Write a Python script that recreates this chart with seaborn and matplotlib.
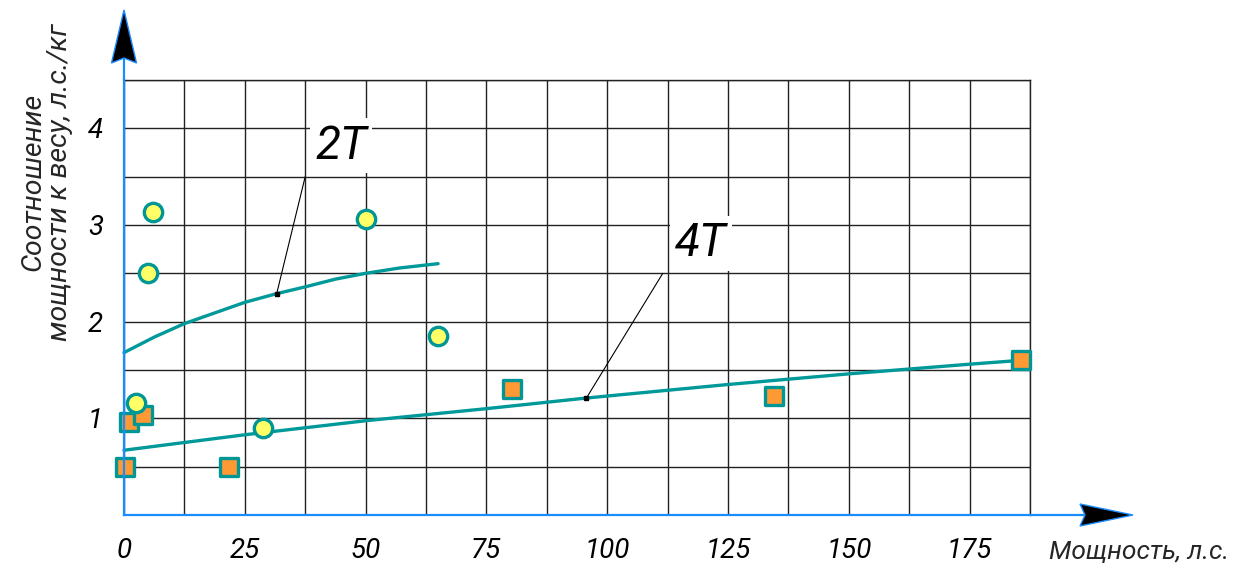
import numpy as np
import pandas as pd
import matplotlib
matplotlib.use("Agg")
import matplotlib.pyplot as plt
import seaborn as sns
from matplotlib import transforms as mtransforms
from matplotlib.patches import Polygon
from matplotlib.ticker import FixedLocator, FixedFormatter

# ---------------- data ----------------
x_2t = [2.5, 5.0, 6.0, 28.8, 50.0, 65.0]
y_2t = [1.16, 2.50, 3.13, 0.90, 3.06, 1.85]

x_4t = [0.2, 1.0, 4.0, 21.7, 80.4, 134.5, 185.6]
y_4t = [0.50, 0.96, 1.03, 0.50, 1.30, 1.23, 1.60]

trend_2t_x = [0, 6.25, 12.5, 18.75, 25, 31.6, 37.5, 43.75, 50, 57, 65]
trend_2t_y = [1.68, 1.84, 1.98, 2.09, 2.20, 2.29, 2.36, 2.44, 2.50, 2.555, 2.60]

trend_4t_x = [0, 25, 50, 75, 95.7, 125, 150, 175, 185.6]
trend_4t_y = [0.67, 0.83, 0.975, 1.10, 1.21, 1.35, 1.46, 1.56, 1.60]

x_tick_values = [0, 25, 50, 75, 100, 125, 150, 175]
x_tick_labels = ["0", "25", "50", "75", "100", "125", "150", "175"]
y_tick_values = [0.5, 1, 1.5, 2, 2.5, 3, 3.5, 4, 4.5]
y_tick_labels = ["", "1", "", "2", "", "3", "", "4", ""]

label_2t = "2T"
label_2t_point = (31.6, 2.29)
label_2t_leader = (37.5, 3.5)
label_2t_text = (44.9, 3.82)

label_4t = "4T"
label_4t_point = (95.7, 1.21)
label_4t_leader = (111.5, 2.5)
label_4t_text = (119.4, 2.81)

x_label = "Мощность, л.с."
y_label = "Соотношение\nмощности к весу, л.с./кг"

# ---------------- style ----------------
AXIS_BLUE = "#1a8cff"
TEAL = "#009696"
LINE_TEAL = "#009999"
YELLOW = "#ffff66"
ORANGE = "#ff9933"
GRID = "#222222"

sns.set_style("white")
plt.rcParams["font.family"] = ["Roboto", "DejaVu Sans"]
plt.rcParams["font.style"] = "italic"

FS = 20

fig = plt.figure(figsize=(12.35, 5.76), dpi=100)
W, H = 1235, 576
ax = fig.add_axes([124 / W, (H - 515) / H, (1030 - 124) / W, (515 - 80) / H])

df_2t = pd.DataFrame({"x": x_2t, "y": y_2t})
df_4t = pd.DataFrame({"x": x_4t, "y": y_4t})
tr_2t = pd.DataFrame({"x": trend_2t_x, "y": trend_2t_y})
tr_4t = pd.DataFrame({"x": trend_4t_x, "y": trend_4t_y})

sns.lineplot(data=tr_2t, x="x", y="y", ax=ax, color=LINE_TEAL, lw=2.4,
             sort=False, estimator=None, zorder=3, clip_on=False)
sns.lineplot(data=tr_4t, x="x", y="y", ax=ax, color=LINE_TEAL, lw=2.4,
             sort=False, estimator=None, zorder=3, clip_on=False)

sns.scatterplot(data=df_4t, x="x", y="y", ax=ax, marker="s", s=175,
                color=ORANGE, edgecolor=TEAL, linewidth=2.4, zorder=4,
                clip_on=False)
sns.scatterplot(data=df_2t, x="x", y="y", ax=ax, marker="o", s=175,
                color=YELLOW, edgecolor=TEAL, linewidth=2.4, zorder=5,
                clip_on=False)

# leaders + labels
for txt, pt, lead, tpos in [(label_2t, label_2t_point, label_2t_leader, label_2t_text),
                            (label_4t, label_4t_point, label_4t_leader, label_4t_text)]:
    ax.plot([pt[0], lead[0]], [pt[1], lead[1]], color="black", lw=0.8, zorder=6)
    ax.plot([pt[0]], [pt[1]], marker="s", ms=3.5, color="black", zorder=7)
    ax.text(tpos[0], tpos[1], txt, fontsize=33, ha="center", va="center",
            color="black", zorder=6,
            bbox=dict(boxstyle="square,pad=0.12", fc="white", ec="none"))

# limits / grid
ax.set_xlim(0, 187.5)
ax.set_ylim(0, 4.5)
ax.xaxis.set_major_locator(FixedLocator(x_tick_values))
ax.xaxis.set_major_formatter(FixedFormatter(x_tick_labels))
ax.xaxis.set_minor_locator(FixedLocator([12.5 + 25 * i for i in range(8)]))
ax.yaxis.set_major_locator(FixedLocator(y_tick_values))
ax.yaxis.set_major_formatter(FixedFormatter(y_tick_labels))
ax.grid(True, which="both", color=GRID, lw=1.0, zorder=0)
ax.set_axisbelow(True)

ax.tick_params(axis="x", which="major", direction="inout", length=9, width=1.5,
               color=AXIS_BLUE, labelsize=FS, pad=12, labelcolor="black")
ax.tick_params(axis="x", which="minor", length=0)
ax.tick_params(axis="y", which="major", direction="inout", length=10, width=1.5,
               color=AXIS_BLUE, labelsize=FS, pad=10, labelcolor="black")

for s in ["left", "bottom"]:
    ax.spines[s].set_color(AXIS_BLUE)
    ax.spines[s].set_linewidth(1.6)
    ax.spines[s].set_zorder(8)
for s in ["top", "right"]:
    ax.spines[s].set_color(GRID)
    ax.spines[s].set_linewidth(1.0)

ax.set_xlabel(x_label, fontsize=19)
ax.xaxis.set_label_coords((1139 - 124) / 906, (515 - 540) / 435)
ax.set_ylabel(y_label, fontsize=20.5, linespacing=1.05)
ax.yaxis.set_label_coords((73 - 124) / 906, (515 - 182) / 435)

# arrow heads on the axes (in inches relative to axes corners)
def arrow(anchor, verts, shaft_end):
    tr = fig.dpi_scale_trans + mtransforms.ScaledTranslation(anchor[0], anchor[1], ax.transAxes)
    ax.plot([0, shaft_end[0]], [0, shaft_end[1]], transform=tr, color=AXIS_BLUE,
            lw=1.6, clip_on=False, zorder=8)
    poly = Polygon(verts, closed=True, transform=tr, fc="black", ec=AXIS_BLUE,
                   lw=1.0, clip_on=False, zorder=9)
    ax.add_patch(poly)

arrow((0, 1), [(0, 0.70), (-0.125, 0.17), (0, 0.22), (0.125, 0.17)], (0, 0.22))
arrow((1, 0), [(1.03, 0), (0.50, 0.11), (0.55, 0), (0.50, -0.11)], (0.55, 0))

fig.savefig("out.png", dpi=100)
